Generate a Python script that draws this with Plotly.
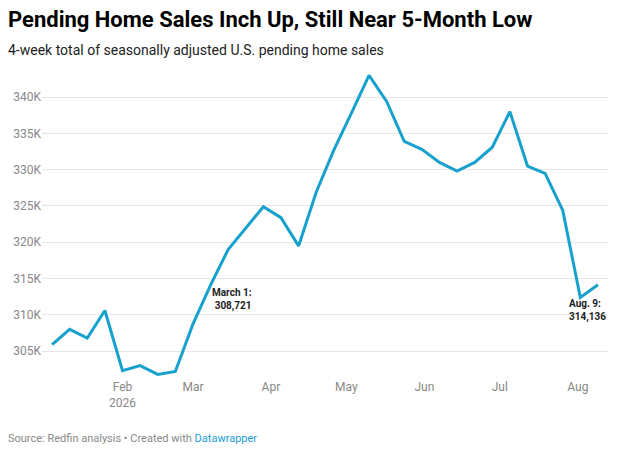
import plotly.graph_objects as go

# weekly pending home sales, 4-week total
weeks = [
    "2026-01-04", "2026-01-11", "2026-01-18", "2026-01-25",
    "2026-02-01", "2026-02-08", "2026-02-15", "2026-02-22",
    "2026-03-01", "2026-03-08", "2026-03-15", "2026-03-22", "2026-03-29",
    "2026-04-05", "2026-04-12", "2026-04-19", "2026-04-26",
    "2026-05-03", "2026-05-10", "2026-05-17", "2026-05-24", "2026-05-31",
    "2026-06-07", "2026-06-14", "2026-06-21", "2026-06-28",
    "2026-07-05", "2026-07-12", "2026-07-19", "2026-07-26",
    "2026-08-02", "2026-08-09",
]
pending_sales = [
    305900, 308000, 306800, 310600,
    302300, 303000, 301800, 302200,
    308721, 314100, 319000, 321900, 324900,
    323400, 319500, 326900, 332700,
    337800, 343000, 339400, 333900, 332800,
    331000, 329800, 331000, 333100,
    338000, 330500, 329500, 324400,
    312400, 314136,
]

y_ticks = [305000, 310000, 315000, 320000, 325000, 330000, 335000, 340000]
y_tick_text = ["305K", "310K", "315K", "320K", "325K", "330K", "335K", "340K"]
x_ticks = ["2026-02-01", "2026-03-01", "2026-04-01", "2026-05-01",
           "2026-06-01", "2026-07-01", "2026-08-01"]
x_tick_text = ["Feb<br>2026", "Mar", "Apr", "May", "Jun", "Jul", "Aug"]

title = "Pending Home Sales Inch Up, Still Near 5-Month Low"
subtitle = "4-week total of seasonally adjusted U.S. pending home sales"
source = "Source: Redfin analysis • Created with "

LINE = "#18a1cd"
FONT = "Roboto"
LEFT = -0.0636  # header/footer left edge, in plot-area fractions

fig = go.Figure()
fig.add_trace(go.Scatter(
    x=weeks, y=pending_sales, mode="lines",
    line=dict(color=LINE, width=3), hoverinfo="skip",
))

# labels on the two highlighted points
fig.add_annotation(x=weeks[8], y=pending_sales[8], text="March 1:<br>308,721",
                   showarrow=False, xanchor="right", yanchor="middle", align="right",
                   xshift=61, yshift=25,
                   font=dict(family=FONT, size=10, color="#222", weight="bold"))
fig.add_annotation(x=weeks[-1], y=pending_sales[-1], text="Aug. 9:<br>314,136",
                   showarrow=False, xanchor="left", yanchor="middle", align="left",
                   xshift=-31, yshift=-26,
                   font=dict(family=FONT, size=10, color="#222", weight="bold"))

# header / footer
fig.add_annotation(xref="paper", yref="paper", x=LEFT, y=1.168, text=title,
                   showarrow=False, xanchor="left", yanchor="middle",
                   font=dict(family=FONT, size=22, color="#000", weight="bold"))
fig.add_annotation(xref="paper", yref="paper", x=LEFT, y=1.068, text=subtitle,
                   showarrow=False, xanchor="left", yanchor="middle",
                   font=dict(family=FONT, size=14, color="#222"))
fig.add_annotation(xref="paper", yref="paper", x=LEFT, y=-0.198,
                   text=source + "<span style='color:#1a9bd7'>Datawrapper</span>",
                   showarrow=False, xanchor="left", yanchor="middle",
                   font=dict(family=FONT, size=11, color="#888"))

fig.update_layout(
    width=617, height=452,
    margin=dict(l=42, r=9, t=71, b=74),
    paper_bgcolor="white", plot_bgcolor="white",
    showlegend=False,
    font=dict(family=FONT, size=12, color="#888"),
    xaxis=dict(
        range=["2025-12-31", "2026-08-13"],
        tickvals=x_ticks, ticktext=x_tick_text,
        showgrid=False, zeroline=False, showline=False, ticks="",
        tickfont=dict(family=FONT, size=12, color="#888"),
    ),
    yaxis=dict(
        range=[301300, 343600],
        tickvals=y_ticks, ticktext=y_tick_text,
        showgrid=True, gridcolor="#e6e6e6", gridwidth=1,
        zeroline=False, showline=False, ticks="",
        tickfont=dict(family=FONT, size=12, color="#888"),
    ),
)

# drop the default page margin so the chart sits at the window origin
fig.write_html("out.html", config={"displayModeBar": False},
               post_script="document.body.style.margin='0px';")
